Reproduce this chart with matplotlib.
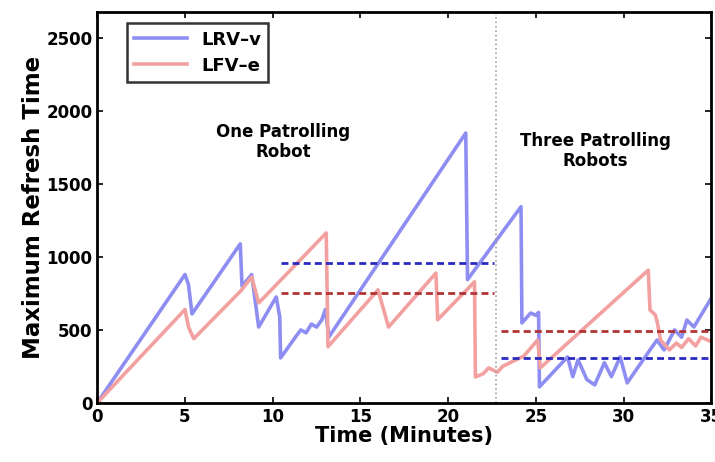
import numpy as np
import matplotlib.pyplot as plt

# refresh-time traces (minutes, refresh time)
lrv_t = [0, 5.0, 5.2, 5.4, 8.15, 8.25, 8.8, 9.2, 10.2, 10.4, 10.45, 11.3, 11.6, 11.9,
         12.2, 12.5, 12.8, 13.0, 13.2, 21.0, 21.1, 24.15, 24.2, 24.7, 25.0, 25.15, 25.2,
         26.8, 27.1, 27.4, 27.9, 28.35, 28.9, 29.3, 29.8, 30.2, 31.5, 31.9, 32.3,
         32.9, 33.3, 33.6, 34.0, 35.0]
lrv_v = [0, 880, 810, 610, 1090, 800, 880, 520, 726, 590, 308, 452, 500, 480,
         540, 520, 570, 640, 452, 1850, 845, 1345, 548, 616, 600, 620, 110,
         315, 180, 295, 160, 123, 275, 180, 315, 137, 363, 431, 363,
         500, 450, 568, 520, 720]

lfv_t = [0, 5.0, 5.2, 5.5, 8.2, 8.8, 9.2, 13.05, 13.15, 16.0, 16.6, 19.3, 19.4,
         21.5, 21.55, 22.0, 22.3, 22.8, 23.1, 23.6, 24.3, 25.1, 25.25, 31.4, 31.5,
         31.8, 31.9, 32.1, 32.6, 33.0, 33.3, 33.7, 34.1, 34.4, 35.0]
lfv_v = [0, 640, 520, 440, 770, 863, 685, 1165, 385, 775, 520, 890, 570,
         830, 178, 200, 240, 210, 250, 280, 320, 431, 240, 910, 637,
         603, 560, 431, 363, 410, 380, 440, 390, 450, 420]

# averages for each phase
phase_one = (10.5, 22.6)
phase_three = (23.0, 35.0)
lrv_avg = [960, 310]
lfv_avg = [755, 495]
switch_time = 22.7

plt.rcParams['font.family'] = 'DejaVu Sans'
plt.rcParams['font.weight'] = 'bold'

fig = plt.figure(figsize=(7.15, 4.62), dpi=100)
ax = fig.add_axes([0.136, 0.128, 0.859, 0.846])

ax.plot(lrv_t, lrv_v, color='#8e8ef2', lw=2.6, label='LRV\u2013v')
ax.plot(lfv_t, lfv_v, color='#f2a0a0', lw=2.6, label='LFV\u2013e')

dash = (0, (2.5, 1.5))
ax.plot(phase_one, [lrv_avg[0]] * 2, color='#2a2ac0', lw=2, ls=dash)
ax.plot(phase_one, [lfv_avg[0]] * 2, color='#b03434', lw=2, ls=dash)
ax.plot(phase_three, [lrv_avg[1]] * 2, color='#2a2ac0', lw=2, ls=dash)
ax.plot(phase_three, [lfv_avg[1]] * 2, color='#b03434', lw=2, ls=dash)

ax.axvline(switch_time, color='#a0a0a0', lw=1.2, ls=':')

ax.text(10.6, 1790, 'One Patrolling\nRobot', ha='center', va='center',
        fontsize=12, fontweight='bold', linespacing=1.15)
ax.text(28.4, 1730, 'Three Patrolling\nRobots', ha='center', va='center',
        fontsize=12, fontweight='bold', linespacing=1.15)

ax.set_xlim(0, 35)
ax.set_ylim(0, 2680)
ax.set_xticks(range(0, 36, 5))
ax.set_yticks(range(0, 2501, 500))
ax.tick_params(direction='in', top=True, right=True, labelsize=12, width=1.2, length=4)
for s in ax.spines.values():
    s.set_linewidth(2)

ax.set_xlabel('Time (Minutes)', fontsize=15, fontweight='bold', labelpad=0)
ax.set_ylabel('Maximum Refresh Time', fontsize=16.5, fontweight='bold', labelpad=1)

leg = ax.legend(loc='upper left', bbox_to_anchor=(0.04, 0.985), fontsize=13,
                handlelength=2.9, labelspacing=0.45, fancybox=False, borderaxespad=0.3)
leg.get_frame().set_edgecolor('black')
leg.get_frame().set_linewidth(1.8)

fig.savefig('out.png', dpi=100)
